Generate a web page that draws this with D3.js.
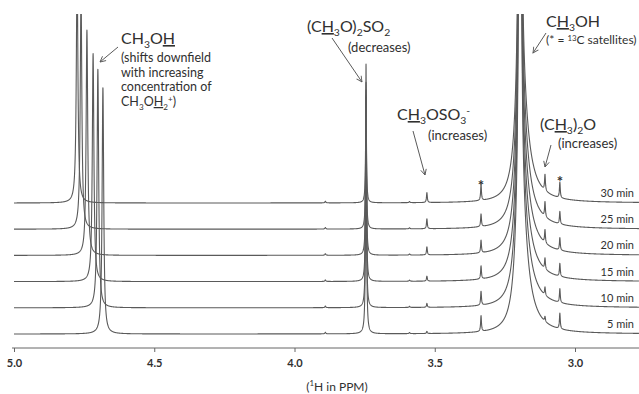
<!DOCTYPE html>
<html>
<head>
<meta charset="utf-8">
<script src="https://cdn.jsdelivr.net/npm/d3@7"></script>
<style>
  body { margin: 0; background: #fff; }
  svg { display: block; font-family: Lato, "Open Sans", sans-serif; }
  text { fill: #303030; }
</style>
</head>
<body>
<div id="chart"></div>
<script>
const width = 639, height = 394,
    line_color = "#5a5a5a", text_color = "#303030",
    trace_offset = 10

// spectra, bottom to top
const time_labels = ["5 min", "10 min", "15 min", "20 min", "25 min", "30 min"]
const ppm_ticks = [5.0, 4.5, 4.0, 3.5, 3.0]

// CH3OH hydroxyl peak moves downfield with time
const oh_shift = [4.683, 4.701, 4.718, 4.740, 4.761, 4.775]
const oh_height = [94, 91, 87, 86, 90, 90]

// other peaks (chemical shift in ppm)
const dms_shift = 3.745, mes_shift = 3.528, meoh_shift = 3.196,
    dme_shift = 3.107, sat_shifts = [3.335, 3.054], minor_shifts = [3.89, 3.59]

const dms_height = [103, 86, 73, 61, 50, 40]       // (CH3O)2SO2, decreases
const mes_height = [0.8, 1.5, 1.9, 3.1, 3.8, 3.8]  // CH3OSO3-, increases
const dme_height = [1.9, 3.1, 4.2, 5.0, 5.7, 6.1]  // (CH3)2O, increases
const sat_height = [6.0, 5.3, 5.0, 4.8, 4.8, 6.0]  // 13C satellites
const minor_height = [0.6, 0.6, 0.6, 0.6, 0.6, 0.6]
const meoh_height = 1100, meoh_base = 57           // CH3OH methyl, off scale

let svg = d3.select("#chart")
    .append("svg")
    .attr("width", width)
    .attr("height", height)

let x = d3.scaleLinear().domain([5.0, 3.0]).range([14, 575])
let y = d3.scaleLinear().domain([0, 50]).range([334, 203])

function lorentz(p, v) {
    let w = v < p.c ? p.wr : p.wl
    let d = v - p.c
    return p.h * w * w / (w * w + d * d)
}

function peaks_for(i) {
    return [
        {c: oh_shift[i], h: oh_height[i], wl: 0.0034, wr: 0.0034},
        {c: dms_shift, h: dms_height[i], wl: 0.0018, wr: 0.0018},
        {c: minor_shifts[0], h: minor_height[i], wl: 0.002, wr: 0.002},
        {c: minor_shifts[1], h: minor_height[i] * 0.7, wl: 0.002, wr: 0.002},
        {c: mes_shift, h: mes_height[i], wl: 0.0018, wr: 0.0018},
        {c: sat_shifts[0], h: sat_height[i], wl: 0.0018, wr: 0.0018},
        {c: meoh_shift, h: meoh_height, wl: 0.0017, wr: 0.0017},
        {c: meoh_shift, h: meoh_base, wl: 0.0172, wr: 0.026},
        {c: dme_shift, h: dme_height[i], wl: 0.0018, wr: 0.0018},
        {c: sat_shifts[1], h: sat_height[i], wl: 0.0018, wr: 0.0018},
    ]
}

let ppm_end = x.invert(width)
let grid = d3.range(5.0, ppm_end, -0.0004)

let traces = time_labels.map((label, i) => {
    let pk = peaks_for(i)
    let pts = grid.concat(pk.map(p => p.c)).sort((a, b) => b - a)
    return {
        label: label,
        offset: i * trace_offset,
        values: pts.map(v => [v, d3.sum(pk, p => lorentz(p, v))])
    }
})

svg.append("defs").append("clipPath")
    .attr("id", "plot-clip")
    .append("rect")
    .attr("x", 0).attr("y", 14)
    .attr("width", width).attr("height", 340)

let line = d3.line()
    .x(d => x(d[0]))

svg.append("g")
    .attr("clip-path", "url(#plot-clip)")
    .selectAll("path")
    .data(traces)
    .enter()
    .append("path")
    .attr("fill", "none")
    .attr("stroke", line_color)
    .attr("stroke-width", 1.1)
    .attr("stroke-linejoin", "round")
    .attr("d", t => line.y(d => y(d[1] + t.offset))(t.values))

svg.append("g")
    .selectAll("text")
    .data(traces)
    .enter()
    .append("text")
    .attr("x", 634)
    .attr("y", t => y(t.offset) - 6)
    .attr("text-anchor", "end")
    .attr("font-size", 11)
    .text(t => t.label)

// axis
let axis = svg.append("g")
    .attr("transform", "translate(0,348)")
    .call(d3.axisBottom(x).tickValues(ppm_ticks).tickFormat(d3.format(".1f"))
        .tickSize(4).tickPadding(7))
axis.select(".domain").remove()
axis.append("line")
    .attr("x1", 12).attr("x2", width)
    .attr("stroke", "#666")
axis.selectAll(".tick line").attr("stroke", "#666")
axis.selectAll(".tick text")
    .attr("font-size", 11)
    .attr("font-family", "Lato, sans-serif")
    .attr("font-weight", 700)
    .attr("fill", text_color)

// rich text helper: [text, kind] with kind "", "sub", "sup", "u"
function rich(x0, y0, size, parts, anchor, sup_shift) {
    let t = svg.append("text")
        .attr("x", x0).attr("y", y0)
        .attr("font-size", size)
        .attr("text-anchor", anchor || "start")
    let shift = 0
    parts.forEach(p => {
        let kind = p[1] || ""
        let target = kind === "sub" ? size * 0.28 : kind === "sup" ? -size * (sup_shift || 0.38) : 0
        let ts = t.append("tspan").attr("dy", target - shift).text(p[0])
        shift = target
        if (kind === "sub" || kind === "sup") ts.attr("font-size", size * 0.65)
        if (kind === "u") ts.style("text-decoration", "underline")
    })
    return t
}

let arrows = [
    [118, 47, 100, 62],
    [332, 38, 362, 82],
    [413, 131, 425, 175],
    [546, 33, 533, 53],
    [551, 145, 545, 167],
]

svg.select("defs").append("marker")
    .attr("id", "head")
    .attr("viewBox", "0 0 10 10")
    .attr("refX", 9).attr("refY", 5)
    .attr("markerWidth", 7).attr("markerHeight", 7)
    .attr("markerUnits", "userSpaceOnUse")
    .attr("orient", "auto")
    .append("path")
    .attr("d", "M1,1 L9,5 L1,9")
    .attr("fill", "none")
    .attr("stroke", line_color)
    .attr("stroke-width", 1.3)

svg.append("g")
    .selectAll("line")
    .data(arrows)
    .enter()
    .append("line")
    .attr("x1", d => d[0]).attr("y1", d => d[1])
    .attr("x2", d => d[2]).attr("y2", d => d[3])
    .attr("stroke", line_color)
    .attr("stroke-width", 1)
    .attr("marker-end", "url(#head)")

// annotations
rich(121, 44, 16, [["CH"], ["3", "sub"], ["O"], ["H", "u"]])
rich(121, 62, 12.5, [["(shifts downfield"]])
rich(121, 76.5, 12.5, [["with increasing"]])
rich(121, 91, 12.5, [["concentration of"]])
rich(121, 106, 12.5, [["CH"], ["3", "sub"], ["O"], ["H", "u"], ["2", "sub"], ["+", "sup"], [")"]], "start", 0.3)

rich(307, 32, 16, [["(C"], ["H", "u"], ["3", "sub"], ["O)"], ["2", "sub"], ["SO"], ["2", "sub"]])
rich(348, 52, 13, [["(decreases)"]])

rich(397, 120, 16, [["C"], ["H", "u"], ["3", "sub"], ["OSO"], ["3", "sub"], ["-", "sup"]])
rich(428, 140, 13, [["(increases)"]])

rich(546, 27, 16, [["C"], ["H", "u"], ["3", "sub"], ["OH"]])
rich(546, 44, 12, [["(* = "], ["13", "sup"], ["C satellites)"]], "start", 0.28)

rich(540, 130, 16, [["(C"], ["H", "u"], ["3", "sub"], [")"], ["2", "sub"], ["O"]])
rich(558, 148, 13, [["(increases)"]])

// 13C satellite markers
svg.append("g")
    .selectAll("text")
    .data(sat_shifts)
    .enter()
    .append("text")
    .attr("x", d => x(d))
    .attr("y", (d, i) => i === 0 ? 191 : 187)
    .attr("text-anchor", "middle")
    .attr("font-size", 15)
    .attr("font-weight", 700)
    .attr("fill", "#222")
    .text("*")

rich(337, 391, 12, [["("], ["1", "sup"], ["H in PPM)"]], "middle")
</script>
</body>
</html>
